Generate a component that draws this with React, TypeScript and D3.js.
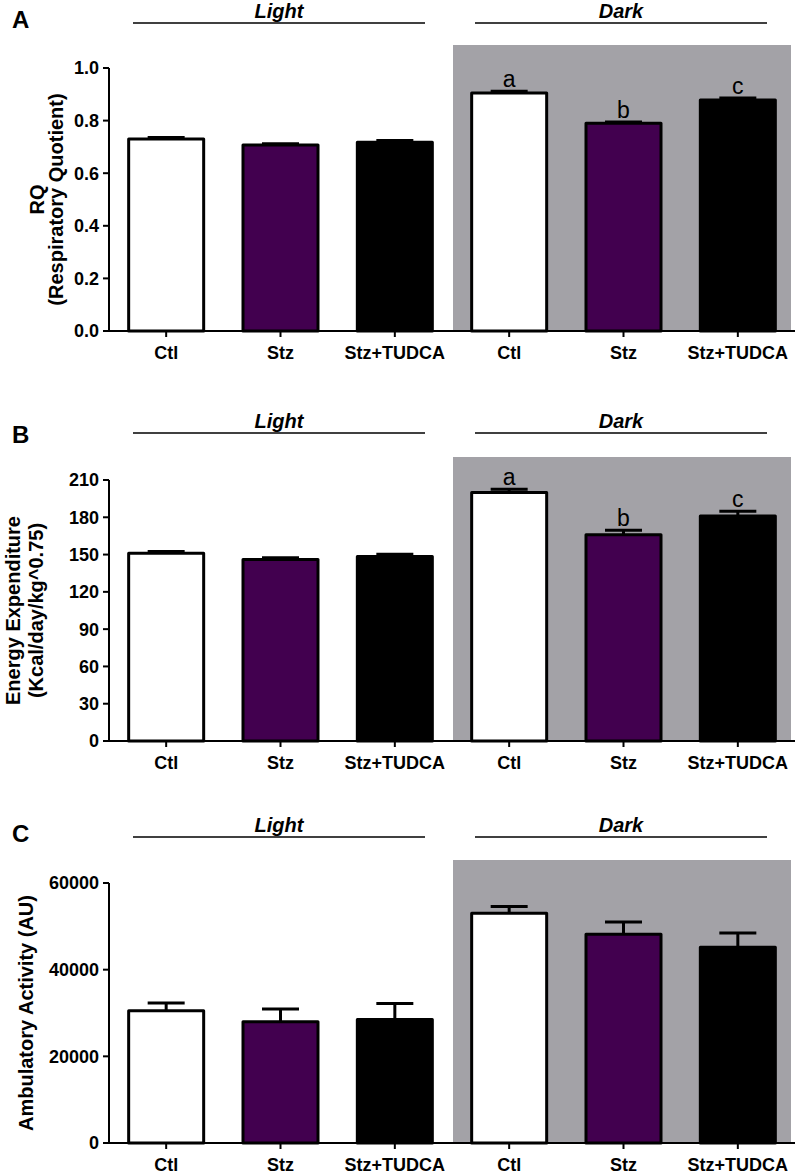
import React, { useEffect, useRef } from 'react';
import * as d3 from 'd3';

const groups = ['Ctl', 'Stz', 'Stz+TUDCA', 'Ctl', 'Stz', 'Stz+TUDCA'];
const phases = ['Light', 'Dark'];
const fills = ['#ffffff', '#42004f', '#000000', '#ffffff', '#42004f', '#000000'];

const rqMeans = [0.73, 0.707, 0.718, 0.905, 0.79, 0.878];
const rqSem = [0.006, 0.005, 0.006, 0.007, 0.005, 0.008];
const rqLetters = ['', '', '', 'a', 'b', 'c'];
const rqTicks = [0, 0.2, 0.4, 0.6, 0.8, 1.0];

const eeMeans = [151, 146, 148.5, 200, 166, 181];
const eeSem = [1.5, 1.5, 1.8, 2.5, 3.5, 3.8];
const eeLetters = ['', '', '', 'a', 'b', 'c'];
const eeTicks = [0, 30, 60, 90, 120, 150, 180, 210];

const ambMeans = [30500, 28000, 28500, 53000, 48200, 45200];
const ambSem = [1800, 2900, 3700, 1600, 2800, 3250];
const ambLetters = ['', '', '', '', '', ''];
const ambTicks = [0, 20000, 40000, 60000];

const FONT = '"Liberation Sans", Arial, sans-serif';

interface PanelSpec {
  label: string;
  labelY: number;
  headerY: number;
  top: number;
  bottom: number;
  max: number;
  ticks: number[];
  fmt: (v: number) => string;
  means: number[];
  sem: number[];
  letters: string[];
  title: { text: string; x: number }[];
}

const panels: PanelSpec[] = [
  {
    label: 'A', labelY: 28, headerY: 23, top: 68, bottom: 331, max: 1.0,
    ticks: rqTicks, fmt: d3.format('.1f'), means: rqMeans, sem: rqSem, letters: rqLetters,
    title: [{ text: 'RQ', x: 44 }, { text: '(Respiratory Quotient)', x: 63 }],
  },
  {
    label: 'B', labelY: 443, headerY: 433, top: 480, bottom: 741, max: 210,
    ticks: eeTicks, fmt: d3.format('d'), means: eeMeans, sem: eeSem, letters: eeLetters,
    title: [{ text: 'Energy Expenditure', x: 20 }, { text: '(Kcal/day/kg^0.75)', x: 43 }],
  },
  {
    label: 'C', labelY: 842, headerY: 837, top: 883, bottom: 1143, max: 60000,
    ticks: ambTicks, fmt: d3.format('d'), means: ambMeans, sem: ambSem, letters: ambLetters,
    title: [{ text: 'Ambulatory Activity (AU)', x: 33 }],
  },
];

const W = 797;
const H = 1174;
const axisX = 109;
const axisEnd = 795;

const App: React.FC = () => {
  const svgRef = useRef<SVGSVGElement | null>(null);

  useEffect(() => {
    if (!svgRef.current) return;
    const svg = d3.select(svgRef.current);
    svg.selectAll('*').remove();

    const x = d3.scaleBand<number>()
      .domain(d3.range(groups.length))
      .range([axisX, axisEnd])
      .paddingInner(0.344)
      .paddingOuter(0.172);

    panels.forEach((p) => {
      const g = svg.append('g');
      const y = d3.scaleLinear().domain([0, p.max]).range([p.bottom, p.top]);

      // dark phase background
      g.append('rect')
        .attr('x', 453)
        .attr('y', p.top - 23)
        .attr('width', 791 - 453)
        .attr('height', p.bottom - (p.top - 23))
        .attr('fill', '#a3a2a7');

      // panel letter
      g.append('text')
        .attr('x', 12)
        .attr('y', p.labelY)
        .attr('font-family', FONT)
        .attr('font-weight', 'bold')
        .attr('font-size', 24)
        .text(p.label);

      // Light / Dark headers
      const spans = [[133, 425], [475, 767]];
      phases.forEach((ph, i) => {
        g.append('line')
          .attr('x1', spans[i][0]).attr('x2', spans[i][1])
          .attr('y1', p.headerY).attr('y2', p.headerY)
          .attr('stroke', '#000').attr('stroke-width', 1.5);
        g.append('text')
          .attr('x', (spans[i][0] + spans[i][1]) / 2)
          .attr('y', p.headerY - 5)
          .attr('text-anchor', 'middle')
          .attr('font-family', FONT)
          .attr('font-weight', 'bold')
          .attr('font-style', 'italic')
          .attr('font-size', 20)
          .text(ph);
      });

      // bars
      p.means.forEach((m, i) => {
        const bx = x(i)!;
        const bw = x.bandwidth();
        const cx = bx + bw / 2;
        const yTop = y(m);
        const yErr = y(m + p.sem[i]);
        g.append('line')
          .attr('x1', cx).attr('x2', cx)
          .attr('y1', yTop).attr('y2', yErr)
          .attr('stroke', '#000').attr('stroke-width', 3);
        g.append('line')
          .attr('x1', cx - 18.5).attr('x2', cx + 18.5)
          .attr('y1', yErr).attr('y2', yErr)
          .attr('stroke', '#000').attr('stroke-width', 3);
        g.append('rect')
          .attr('x', bx)
          .attr('y', yTop)
          .attr('width', bw)
          .attr('height', p.bottom - yTop)
          .attr('fill', fills[i])
          .attr('stroke', '#000')
          .attr('stroke-width', 3)
          .attr('stroke-linejoin', 'round');
        if (p.letters[i]) {
          g.append('text')
            .attr('x', cx)
            .attr('y', yErr - 4)
            .attr('text-anchor', 'middle')
            .attr('font-family', FONT)
            .attr('font-size', 23)
            .text(p.letters[i]);
        }
      });

      // y axis
      g.append('line')
        .attr('x1', axisX).attr('x2', axisX)
        .attr('y1', p.top).attr('y2', p.bottom)
        .attr('stroke', '#000').attr('stroke-width', 2);
      p.ticks.forEach((t) => {
        g.append('line')
          .attr('x1', axisX - 6).attr('x2', axisX)
          .attr('y1', y(t)).attr('y2', y(t))
          .attr('stroke', '#000').attr('stroke-width', 2);
        g.append('text')
          .attr('x', axisX - 10)
          .attr('y', y(t))
          .attr('dy', '0.36em')
          .attr('text-anchor', 'end')
          .attr('font-family', FONT)
          .attr('font-weight', 'bold')
          .attr('font-size', 18)
          .text(p.fmt(t));
      });

      // x axis
      g.append('line')
        .attr('x1', axisX - 6).attr('x2', axisEnd)
        .attr('y1', p.bottom).attr('y2', p.bottom)
        .attr('stroke', '#000').attr('stroke-width', 2);
      groups.forEach((name, i) => {
        const cx = x(i)! + x.bandwidth() / 2;
        g.append('line')
          .attr('x1', cx).attr('x2', cx)
          .attr('y1', p.bottom).attr('y2', p.bottom + 6)
          .attr('stroke', '#000').attr('stroke-width', 2);
        g.append('text')
          .attr('x', cx)
          .attr('y', p.bottom + 28)
          .attr('text-anchor', 'middle')
          .attr('font-family', FONT)
          .attr('font-weight', 'bold')
          .attr('font-size', 18)
          .text(name);
      });

      // y title
      const midY = (p.top + p.bottom) / 2;
      p.title.forEach((t) => {
        g.append('text')
          .attr('transform', `translate(${t.x},${midY}) rotate(-90)`)
          .attr('text-anchor', 'middle')
          .attr('font-family', FONT)
          .attr('font-weight', 'bold')
          .attr('font-size', 20)
          .text(t.text);
      });
    });
  }, []);

  return (
    <div style={{ position: 'absolute', left: 0, top: 0, background: '#fff' }}>
      <svg ref={svgRef} width={W} height={H} style={{ display: 'block' }}></svg>
    </div>
  );
};

export default App;
